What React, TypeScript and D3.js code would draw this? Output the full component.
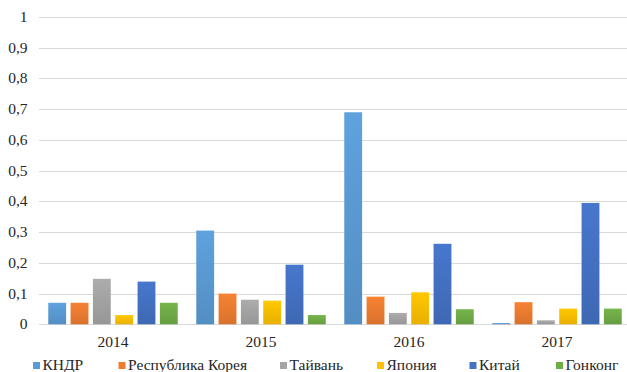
import React from "react";
import * as d3 from "d3";

// Years on the category axis
const years = ["2014", "2015", "2016", "2017"];

// Series (countries) and their colours
const seriesNames = ["КНДР", "Республика Корея", "Тайвань", "Япония", "Китай", "Гонконг"];
const seriesColors = ["#5B9BD5", "#ED7D31", "#A5A5A5", "#FFC000", "#4472C4", "#70AD47"];

// Values per series, one entry per year
const kndr = [0.07, 0.305, 0.69, 0.004];
const korea = [0.07, 0.1, 0.09, 0.072];
const taiwan = [0.148, 0.08, 0.037, 0.013];
const japan = [0.03, 0.077, 0.104, 0.051];
const china = [0.139, 0.194, 0.262, 0.395];
const hongkong = [0.07, 0.03, 0.049, 0.051];

const seriesValues = [kndr, korea, taiwan, japan, china, hongkong];

// Y axis ticks and labels
const yTicks = [0, 0.1, 0.2, 0.3, 0.4, 0.5, 0.6, 0.7, 0.8, 0.9, 1];
const yTickLabels = ["0", "0,1", "0,2", "0,3", "0,4", "0,5", "0,6", "0,7", "0,8", "0,9", "1"];

const W = 627;
const H = 372;
const plotLeft = 39;
const plotRight = 631;
const plotTop = 17;
const plotBottom = 324.3;

// Legend marker positions
const legendX = [33, 118.5, 280, 377, 469.5, 556];

const textStyle = { fontFamily: '"Liberation Serif"', fontSize: 15.5 };

export default function App() {
  const x = d3.scaleBand<string>().domain(years).range([plotLeft, plotRight]).padding(0);
  const inner = d3
    .scaleBand<string>()
    .domain(seriesNames)
    .range([0, x.bandwidth()])
    .paddingInner(0.2)
    .paddingOuter(0.415);
  const y = d3.scaleLinear().domain([0, 1]).range([plotBottom, plotTop]);

  return (
    <svg
      width={W}
      height={H}
      style={{ position: "absolute", left: 0, top: 0, background: "#fff" }}
    >
      <defs>
        {seriesColors.map((c, i) => {
          const top = d3.color(c)!.brighter(0.12).formatHex();
          const bottom = d3.color(c)!.darker(0.25).formatHex();
          return (
            <linearGradient key={i} id={`grad${i}`} x1="0" y1="0" x2="0" y2="1">
              <stop offset="0" stopColor={top} />
              <stop offset="1" stopColor={bottom} />
            </linearGradient>
          );
        })}
      </defs>
      <rect width={W} height={H} fill="#fff" />

      {/* gridlines */}
      {yTicks.map((t) => (
        <line
          key={t}
          x1={plotLeft}
          x2={W}
          y1={Math.round(y(t)) + 0.5}
          y2={Math.round(y(t)) + 0.5}
          stroke="#d9d9d9"
          strokeWidth={1}
        />
      ))}

      {/* y tick labels */}
      {yTicks.map((t, i) => (
        <text key={t} x={27.5} y={y(t) + 5} textAnchor="end" style={textStyle} fill="#262626">
          {yTickLabels[i]}
        </text>
      ))}

      {/* bars */}
      {years.map((yr, yi) => (
        <g key={yr} transform={`translate(${x(yr)},0)`}>
          {seriesNames.map((s, si) => {
            const v = seriesValues[si][yi];
            return (
              <rect
                key={s}
                x={inner(s)}
                y={y(v)}
                width={inner.bandwidth()}
                height={plotBottom - y(v)}
                fill={`url(#grad${si})`}
              />
            );
          })}
        </g>
      ))}

      {/* x labels */}
      {years.map((yr) => (
        <text
          key={yr}
          x={x(yr)! + x.bandwidth() / 2}
          y={347}
          textAnchor="middle"
          style={textStyle}
          fill="#262626"
        >
          {yr}
        </text>
      ))}

      {/* legend */}
      {seriesNames.map((s, i) => (
        <g key={s}>
          <rect x={legendX[i]} y={362} width={7} height={7} fill={seriesColors[i]} />
          <text x={legendX[i] + 9.5} y={369.5} style={textStyle} fill="#262626">
            {s}
          </text>
        </g>
      ))}
    </svg>
  );
}
